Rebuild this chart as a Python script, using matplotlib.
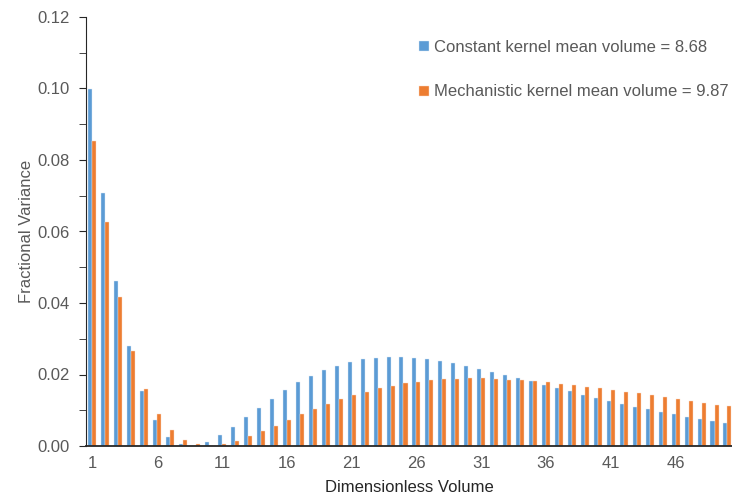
import matplotlib.pyplot as plt
import numpy as np

plt.rcParams['font.family'] = ['Liberation Sans', 'DejaVu Sans']

volume = list(range(1, 51))
constant = [0.0998, 0.0707, 0.0461, 0.0280, 0.0154, 0.0073, 0.0026, 0.0005, 0.0001, 0.0011,
            0.0031, 0.0053, 0.0080, 0.0106, 0.0131, 0.0157, 0.0178, 0.0197, 0.0213, 0.0225,
            0.0235, 0.0242, 0.0246, 0.0248, 0.0248, 0.0246, 0.0242, 0.0238, 0.0231, 0.0224,
            0.0215, 0.0207, 0.0199, 0.0189, 0.0181, 0.0171, 0.0161, 0.0153, 0.0144, 0.0134,
            0.0126, 0.0117, 0.0110, 0.0103, 0.0095, 0.0089, 0.0082, 0.0076, 0.0071, 0.0065]
mechanistic = [0.0853, 0.0627, 0.0417, 0.0266, 0.0159, 0.0089, 0.0045, 0.0017, 0.0005, 0.0001,
               0.0006, 0.0014, 0.0027, 0.0042, 0.0056, 0.0073, 0.0089, 0.0103, 0.0117, 0.0131,
               0.0142, 0.0152, 0.0161, 0.0169, 0.0175, 0.0180, 0.0185, 0.0187, 0.0188, 0.0189,
               0.0189, 0.0187, 0.0186, 0.0184, 0.0181, 0.0178, 0.0174, 0.0171, 0.0166, 0.0161,
               0.0157, 0.0152, 0.0147, 0.0142, 0.0136, 0.0131, 0.0126, 0.0121, 0.0116, 0.0111]
labels = ['Constant kernel mean volume = 8.68', 'Mechanistic kernel mean volume = 9.87']
xtick_labels = [1, 6, 11, 16, 21, 26, 31, 36, 41, 46]

blue = '#5B9BD5'
orange = '#ED7D31'
grey = '#595959'

fig = plt.figure(figsize=(7.32, 4.99), dpi=100)
ax = fig.add_axes([86 / 732, 1 - 446 / 499, 1 - 86 / 732, (446 - 17) / 499])

x = np.array(volume)
w = 0.31
ax.bar(x - w / 2, constant, w, color=blue, edgecolor='#DCE9F6', linewidth=0.3, label=labels[0])
ax.bar(x + w / 2, mechanistic, w, color=orange, edgecolor='#FBDCC8', linewidth=0.3, label=labels[1])

ax.set_xlim(0.5, 50.35)
ax.set_ylim(0, 0.12)
ax.set_yticks(np.arange(0, 0.121, 0.02))
ax.set_yticks(np.arange(0, 0.121, 0.01), minor=True)
ax.set_yticklabels(['%.2f' % v for v in np.arange(0, 0.121, 0.02)])
ax.set_xticks(xtick_labels)
ax.set_xticklabels([str(v) for v in xtick_labels])

for s in ['top', 'right']:
    ax.spines[s].set_visible(False)
ax.spines['left'].set_color('#262626')
ax.spines['bottom'].set_color('#262626')
ax.spines['bottom'].set_linewidth(1.3)
ax.tick_params(axis='y', which='both', direction='out', length=5, color='#262626',
               labelsize=12, labelcolor=grey, pad=7)
ax.tick_params(axis='x', length=0, labelsize=12, labelcolor=grey, pad=7)

ax.set_xlabel('Dimensionless Volume', fontsize=12, color='#262626', labelpad=7)
ax.set_ylabel('Fractional Variance', fontsize=12, color=grey, labelpad=2)

leg = ax.legend(loc='upper left', bbox_to_anchor=(411 / 732, 1 - 32 / 499),
                bbox_transform=fig.transFigure, frameon=False, fontsize=12, borderpad=0,
                handlelength=0.55, handleheight=0.55, handletextpad=0.3, labelspacing=1.75)
for t in leg.get_texts():
    t.set_color(grey)

fig.savefig('out.png', dpi=100)
